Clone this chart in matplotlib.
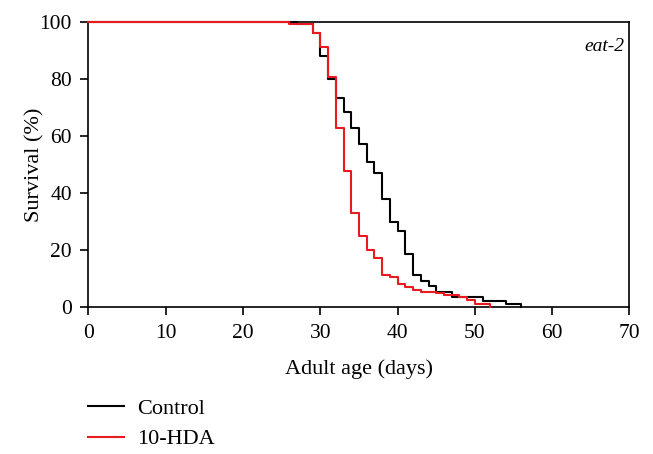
import matplotlib
matplotlib.use('Agg')
import matplotlib.pyplot as plt

# Kaplan-Meier style survival steps (day, % alive after that day)
control_days = [0, 27, 29, 30, 31, 32, 33, 34, 35, 36, 37, 38, 39, 40, 41,
                42, 43, 44, 45, 47, 51, 54, 56]
control_surv = [100, 99.4, 96, 88, 80, 73.5, 68.5, 62.7, 57.3, 51, 47, 37.8,
                29.8, 26.6, 18.6, 11.4, 9.1, 7.2, 5.2, 3.5, 2.2, 1.0, 0]

hda_days = [0, 26, 29, 30, 31, 32, 33, 34, 35, 36, 37, 38, 39, 40, 41, 42,
            43, 45, 46, 48, 49, 50, 52]
hda_surv = [100, 99.2, 96, 91.3, 80.8, 62.7, 47.8, 33.1, 25, 20, 17.3, 11.3,
            10.4, 7.9, 7.0, 6.1, 5.3, 4.8, 4.2, 3.5, 2.3, 1.2, 0]

x_ticks = [0, 10, 20, 30, 40, 50, 60, 70]
y_ticks = [0, 20, 40, 60, 80, 100]

plt.rcParams['font.family'] = ['Liberation Serif', 'DejaVu Serif']

fig = plt.figure(figsize=(6.53, 4.54), dpi=100)
ax = fig.add_axes([0.1355, 0.3238, 0.8285, 0.6277])

ax.step(control_days, control_surv, where='post', color='black', lw=1.5,
        label='Control', clip_on=False, zorder=3)
ax.step(hda_days, hda_surv, where='post', color='#e8191f', lw=1.5,
        label='10-HDA', clip_on=False, zorder=4)

ax.set_xlim(0, 70)
ax.set_ylim(0, 100)
ax.set_xticks(x_ticks)
ax.set_yticks(y_ticks)
ax.tick_params(direction='out', length=6, width=1.2, labelsize=15.5, pad=6)
for s in ax.spines.values():
    s.set_linewidth(1.2)

ax.set_xlabel('Adult age (days)', fontsize=16, labelpad=12)
ax.set_ylabel('Survival (%)', fontsize=16)
ax.yaxis.set_label_coords(-0.082, 0.5)
ax.text(0.99, 0.915, 'eat-2', transform=ax.transAxes, ha='right', va='center',
        fontsize=14, style='italic')

fig.legend(loc='upper left', bbox_to_anchor=(0.118, 0.147), frameon=False,
           fontsize=16, handlelength=1.6, handletextpad=0.6,
           labelspacing=0.45, borderpad=0)

fig.savefig('out.png', dpi=100)
